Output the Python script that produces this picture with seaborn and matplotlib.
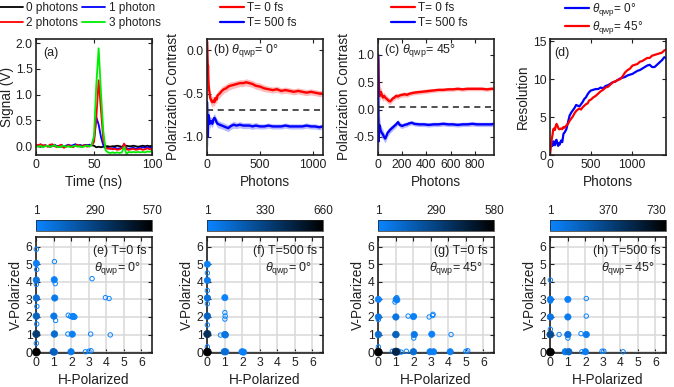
import numpy as np
import pandas as pd
import matplotlib
matplotlib.use("Agg")
import matplotlib.pyplot as plt
import seaborn as sns
from matplotlib.colors import LinearSegmentedColormap, Normalize
from matplotlib.cm import ScalarMappable
from matplotlib.lines import Line2D

# ---------------- data ----------------
# (a) detector signal traces
t_ns = [0, 2, 4, 6, 8, 10, 12, 14, 16, 18, 20, 22, 24, 26, 28, 30, 32, 34, 36, 38, 40,
        42, 44, 46, 48, 50, 52, 54, 56, 58, 60, 62, 64, 66, 68, 70, 72, 74, 76, 78, 80,
        82, 84, 86, 88, 90, 92, 94, 96, 98, 100]
sig_0ph = [0.01, 0.00, -0.01, 0.00, 0.01, 0.00, -0.01, 0.00, 0.01, 0.00, 0.00, -0.01, 0.00, 0.01, 0.00, 0.00, 0.01,
           0.02, 0.01, 0.02, 0.01, 0.02, 0.02, 0.01, 0.02, 0.01, -0.02, -0.01, -0.02, -0.01, 0.00, 0.00, -0.01, 0.00,
           0.00, 0.01, 0.00, -0.01, 0.00, 0.01, 0.00, 0.00, 0.01, 0.00, -0.01, 0.00, 0.01, 0.00, 0.01, 0.00, 0.01]
sig_1ph = [0.02, 0.01, 0.03, 0.01, 0.02, 0.00, 0.02, 0.01, 0.03, 0.00, 0.01, 0.02, 0.00, 0.01, 0.03, 0.01, 0.02,
           0.04, 0.01, 0.02, 0.00, 0.02, 0.01, 0.03, 0.02, 0.12, 0.56, 0.42, 0.18, 0.02, -0.04, -0.03, -0.05, -0.04,
           -0.03, -0.05, -0.04, -0.03, 0.04, -0.04, -0.05, -0.04, -0.03, -0.05, -0.03, -0.04, -0.02, -0.03, -0.02,
           -0.03, -0.02]
sig_2ph = [0.03, 0.02, 0.04, 0.01, 0.02, -0.01, 0.03, 0.04, 0.00, -0.02, 0.01, 0.03, -0.03, -0.01, 0.02, 0.00,
           -0.02, 0.01, 0.03, -0.01, 0.00, 0.02, -0.01, 0.01, 0.02, 0.08, 0.55, 1.28, 0.70, 0.12, -0.03, -0.05,
           -0.04, -0.06, -0.05, -0.07, -0.06, -0.04, 0.05, -0.06, -0.07, -0.06, -0.05, -0.07, -0.06, -0.05, -0.07,
           -0.06, -0.04, -0.06, -0.05]
sig_3ph = [0.00, -0.01, 0.01, -0.02, 0.00, 0.01, -0.01, 0.00, 0.02, -0.01, -0.02, 0.00, 0.01, -0.01, 0.00, -0.02,
           0.00, 0.01, -0.01, 0.00, -0.02, 0.00, 0.01, -0.01, 0.03, 0.20, 1.20, 1.90, 1.05, 0.30, -0.08, -0.12,
           -0.13, -0.12, -0.13, -0.12, -0.13, -0.12, -0.01, -0.15, -0.11, -0.12, -0.11, -0.12, -0.11, -0.12, -0.11,
           -0.12, -0.10, -0.11, -0.09]
trace_labels = ["0 photons", "1 photon", "2 photons", "3 photons"]

# (b) polarization contrast, theta_qwp = 0
b_photons = [1, 3, 5, 8, 10, 12, 15, 20, 25, 30, 40, 50, 60, 70, 80, 90, 100, 120, 140, 160, 180, 200, 220, 250,
             280, 310, 340, 370, 400, 430, 460, 500, 540, 580, 620, 660, 700, 740, 780, 820, 860, 900, 940, 980,
             1020, 1060, 1090]
b_red = [0.10, 0.05, -0.10, -0.20, -0.18, -0.30, -0.40, -0.46, -0.50, -0.55, -0.58, -0.60, -0.58, -0.60, -0.55,
         -0.57, -0.52, -0.50, -0.47, -0.45, -0.44, -0.42, -0.41, -0.40, -0.39, -0.38, -0.38, -0.37, -0.38, -0.39,
         -0.41, -0.42, -0.44, -0.45, -0.46, -0.45, -0.47, -0.46, -0.47, -0.48, -0.47, -0.48, -0.49, -0.48, -0.49,
         -0.50, -0.50]
b_red_err = [0.25, 0.20, 0.15, 0.12, 0.10, 0.09, 0.08, 0.07, 0.07, 0.06, 0.06, 0.06, 0.05, 0.05, 0.05, 0.05, 0.05,
             0.05, 0.05, 0.045, 0.045, 0.045, 0.045, 0.04, 0.04, 0.04, 0.04, 0.04, 0.04, 0.04, 0.04, 0.04, 0.04,
             0.035, 0.035, 0.035, 0.035, 0.035, 0.035, 0.035, 0.035, 0.035, 0.035, 0.035, 0.035, 0.035, 0.035]
b_blue = [-0.60, -0.70, -0.95, -1.00, -0.90, -0.80, -0.75, -0.78, -0.85, -0.83, -0.82, -0.85, -0.80, -0.78, -0.80,
          -0.83, -0.85, -0.86, -0.87, -0.88, -0.89, -0.90, -0.88, -0.86, -0.87, -0.86, -0.87, -0.87, -0.87, -0.88,
          -0.87, -0.88, -0.88, -0.87, -0.88, -0.88, -0.88, -0.87, -0.88, -0.88, -0.88, -0.88, -0.87, -0.88, -0.88,
          -0.89, -0.88]
b_blue_err = [0.30, 0.25, 0.15, 0.12, 0.10, 0.09, 0.08, 0.07, 0.06, 0.06, 0.05, 0.05, 0.05, 0.05, 0.045, 0.045,
              0.045, 0.04, 0.04, 0.04, 0.04, 0.04, 0.04, 0.04, 0.035, 0.035, 0.035, 0.035, 0.035, 0.035, 0.035,
              0.03, 0.03, 0.03, 0.03, 0.03, 0.03, 0.03, 0.03, 0.03, 0.03, 0.03, 0.03, 0.03, 0.03, 0.03, 0.03]
b_reference = -0.69

# (c) polarization contrast, theta_qwp = 45
c_photons = [1, 3, 5, 8, 10, 15, 20, 25, 30, 40, 50, 60, 70, 80, 90, 100, 110, 120, 135, 150, 165, 180, 200, 220,
             240, 260, 280, 300, 340, 380, 420, 460, 500, 540, 580, 620, 660, 700, 740, 780, 820, 860, 900, 940, 960]
c_red = [1.00, 0.90, 0.60, 0.45, 0.35, 0.25, 0.30, 0.32, 0.28, 0.22, 0.25, 0.22, 0.20, 0.18, 0.16, 0.15, 0.17, 0.20,
         0.22, 0.25, 0.24, 0.26, 0.27, 0.28, 0.27, 0.29, 0.30, 0.31, 0.32, 0.33, 0.34, 0.35, 0.36, 0.36, 0.37, 0.37,
         0.38, 0.37, 0.38, 0.38, 0.38, 0.38, 0.37, 0.38, 0.38]
c_red_err = [0.30, 0.25, 0.20, 0.15, 0.12, 0.10, 0.09, 0.08, 0.08, 0.07, 0.07, 0.065, 0.06, 0.06, 0.06, 0.055,
             0.055, 0.05, 0.05, 0.05, 0.05, 0.045, 0.045, 0.045, 0.045, 0.04, 0.04, 0.04, 0.04, 0.04, 0.04, 0.035,
             0.035, 0.035, 0.035, 0.035, 0.035, 0.035, 0.035, 0.035, 0.035, 0.035, 0.035, 0.035, 0.035]
c_blue = [1.00, 0.20, -0.58, -0.40, -0.28, -0.30, -0.37, -0.40, -0.42, -0.45, -0.50, -0.53, -0.48, -0.42, -0.40,
          -0.37, -0.35, -0.33, -0.30, -0.27, -0.23, -0.28, -0.30, -0.28, -0.27, -0.25, -0.24, -0.26, -0.27, -0.27,
          -0.28, -0.27, -0.27, -0.26, -0.27, -0.27, -0.28, -0.27, -0.27, -0.26, -0.27, -0.27, -0.27, -0.27, -0.26]
c_blue_err = [0.40, 0.35, 0.30, 0.25, 0.20, 0.15, 0.12, 0.10, 0.10, 0.09, 0.08, 0.08, 0.07, 0.07, 0.065, 0.06,
              0.06, 0.055, 0.055, 0.05, 0.05, 0.05, 0.045, 0.045, 0.045, 0.04, 0.04, 0.04, 0.04, 0.04, 0.04, 0.04,
              0.04, 0.04, 0.04, 0.04, 0.04, 0.04, 0.04, 0.04, 0.04, 0.04, 0.04, 0.04, 0.04]
c_reference = 0.04

# (d) resolution
d_photons = [0, 10, 20, 30, 40, 50, 60, 70, 80, 90, 100, 110, 120, 135, 150, 165, 180, 200, 220, 240, 260, 280,
             300, 320, 340, 360, 380, 400, 420, 440, 460, 480, 500, 530, 560, 590, 620, 650, 680, 710, 740, 770,
             800, 830, 860, 890, 920, 950, 980, 1010, 1040, 1070, 1100, 1130, 1160, 1190, 1220, 1250, 1280, 1310,
             1340, 1370, 1400, 1420]
d_qwp0 = [1.3, 1.6, 1.5, 1.2, 1.8, 1.4, 1.3, 1.9, 2.0, 1.5, 1.2, 1.6, 1.4, 1.9, 1.7, 2.8, 3.0, 3.4, 4.3, 5.2, 5.6,
          5.9, 6.2, 6.6, 6.5, 6.4, 6.7, 7.0, 7.4, 7.6, 8.0, 8.3, 8.5, 8.6, 8.7, 8.7, 8.9, 8.8, 9.1, 9.2, 9.4, 9.6,
          9.7, 9.9, 10.1, 10.2, 10.3, 10.5, 10.6, 10.7, 10.9, 11.1, 11.2, 11.4, 11.6, 11.8, 11.9, 11.6, 11.6, 11.9,
          12.2, 12.5, 12.9, 12.8]
d_qwp45 = [0.0, 1.0, 2.0, 2.6, 3.4, 3.5, 3.3, 3.8, 4.1, 3.9, 3.6, 3.4, 3.4, 3.5, 3.4, 3.7, 3.6, 3.9, 4.1, 4.5, 4.8,
           5.1, 5.5, 5.8, 6.0, 6.1, 6.0, 6.3, 6.5, 6.7, 6.8, 7.2, 7.3, 7.6, 7.8, 8.1, 8.4, 8.6, 8.9, 9.0, 9.3, 9.6,
           9.7, 9.9, 10.0, 10.4, 10.9, 11.2, 11.4, 11.8, 11.9, 12.0, 12.3, 12.4, 12.6, 12.8, 12.8, 13.1, 13.2, 13.3,
           13.4, 13.5, 13.8, 13.9]

# (e)-(h) photon-number histograms: H, V and occurrence count
e_h = [0.00, 0.00, 0.00, 0.00, 0.00, 0.00, 0.00, 0.02, 0.00, 0.03, 0.02, 0.00, 0.97, 1.03, 1.00, 1.05, 1.02, 1.03,
       1.10, 1.08, 1.03, 1.98, 2.05, 2.12, 1.80, 2.08, 1.82, 1.95, 2.05, 2.20, 2.80, 3.00, 3.12, 3.10, 3.18, 3.94,
       4.15, 4.22]
e_v = [0.00, 1.03, 2.05, 3.08, 4.10, 5.05, 5.85, 4.70, 3.85, 2.60, 1.60, 0.50, 0.02, 1.03, 2.05, 3.08, 4.12, 5.15,
       1.80, 3.90, 0.00, 0.02, 1.02, 2.02, 1.03, 2.08, 2.10, 2.03, 2.00, 2.00, 0.02, 0.05, 0.08, 1.03, 4.18, 3.10,
       3.05, 0.98]
e_n = [570, 320, 140, 90, 70, 25, 1, 2, 3, 2, 4, 5, 160, 110, 60, 45, 20, 2, 3, 2, 40, 45, 25, 10, 3, 4, 3, 3, 2, 2,
       3, 2, 3, 6, 2, 2, 2, 2]

f_h = [0.00, 0.00, 0.00, 0.00, 0.00, 0.00, 0.00, 0.00, 0.00, 0.00, 0.00, 0.97, 1.05, 1.00, 1.03, 0.75, 1.00, 1.02,
       1.00, 1.00, 1.98, 2.07]
f_v = [0.00, 1.03, 2.05, 3.08, 4.08, 5.00, 2.75, 3.50, 4.50, 0.30, 1.55, 0.02, 0.02, 1.00, 0.98, 0.97, 1.88, 2.05,
       2.25, 3.10, 0.02, 0.00]
f_n = [660, 420, 160, 90, 45, 12, 2, 2, 2, 3, 3, 110, 40, 80, 30, 2, 3, 2, 2, 9, 20, 10]

g_h = [0.00, 0.00, 0.00, 0.00, 0.00, 0.00, 1.00, 1.10, 1.00, 1.00, 1.02, 1.05, 0.95, 1.10, 0.80, 1.30, 2.00, 2.05,
       2.02, 2.00, 2.05, 1.70, 1.60, 2.95, 3.15, 3.05, 2.90, 3.10, 3.12, 4.10, 4.15, 5.00, 5.10]
g_v = [0.00, 1.00, 2.00, 3.00, 0.30, 1.85, 0.02, 0.02, 1.00, 2.00, 3.00, 3.10, 2.85, 2.95, 0.05, 0.00, 0.02, 1.00,
       0.80, 2.02, 2.05, 2.05, 0.05, 0.02, 0.02, 1.02, 2.00, 2.08, 2.15, 0.02, 1.00, 0.05, 0.08]
g_n = [580, 110, 60, 10, 3, 2, 420, 60, 160, 70, 30, 3, 2, 2, 3, 2, 100, 55, 2, 20, 5, 2, 2, 30, 15, 15, 3, 3, 2,
       12, 2, 2, 3]

h_h = [0.00, 0.00, 0.00, 0.00, 0.00, 0.00, 0.00, 0.50, 0.85, 1.05, 1.00, 1.00, 1.00, 1.00, 1.75, 2.00, 1.80, 2.05,
       2.05, 2.05, 2.95, 3.05, 4.15]
h_v = [0.00, 1.00, 2.00, 3.00, 4.10, 1.30, 2.90, 1.00, 0.02, 0.02, 1.00, 0.80, 2.00, 3.00, 1.05, 0.02, 0.02, 1.00,
       2.05, 3.05, 0.05, 0.05, 0.02]
h_n = [730, 320, 80, 50, 2, 2, 2, 2, 60, 150, 110, 2, 50, 20, 3, 40, 2, 55, 3, 3, 3, 3, 2]

hist_titles = ["(e) T=0 fs", "(f) T=500 fs", "(g) T=0 fs", "(h) T=500 fs"]
hist_angles = ["0°", "0°", "45°", "45°"]
cbar_ticks = [[1, 290, 570], [1, 330, 660], [1, 290, 580], [1, 370, 730]]

# ---------------- style ----------------
sns.set_style("ticks")
plt.rcParams.update({
    "font.family": ["Liberation Sans", "DejaVu Sans"],
    "mathtext.fontset": "custom",
    "mathtext.rm": "Liberation Sans",
    "mathtext.it": "Liberation Sans:italic",
    "axes.unicode_minus": False,
    "xtick.direction": "in",
    "ytick.direction": "in",
    "xtick.top": True,
    "ytick.right": True,
    "xtick.major.size": 3,
    "ytick.major.size": 3,
    "xtick.major.width": 0.8,
    "ytick.major.width": 0.8,
    "xtick.major.pad": 3,
    "ytick.major.pad": 2.5,
    "xtick.labelsize": 8.8,
    "ytick.labelsize": 8.8,
    "axes.labelsize": 9.8,
    "axes.edgecolor": "#202020",
    "axes.linewidth": 1.2,
    "xtick.color": "#202020",
    "ytick.color": "#202020",
    "text.color": "#202020",
    "axes.labelcolor": "#202020",
})

W, H = 674, 387
fig = plt.figure(figsize=(W / 100, H / 100), dpi=100)


def px_axes(left, top, right, bottom):
    return fig.add_axes([left / W, 1 - bottom / H, (right - left) / W, (bottom - top) / H])


lefts = [36, 207, 378, 550]
axw = 116

RED, BLUE, GREEN, BLACK = "#ff0000", "#0000ff", "#00ee00", "#000000"

# ---- (a)
ax = px_axes(lefts[0], 39, lefts[0] + axw, 155)
df_a = pd.DataFrame({"t": t_ns * 4,
                     "sig": sig_0ph + sig_1ph + sig_2ph + sig_3ph,
                     "trace": sum([[lab] * len(t_ns) for lab in trace_labels], [])})
sns.lineplot(data=df_a, x="t", y="sig", hue="trace", hue_order=trace_labels,
             palette=[BLACK, BLUE, RED, GREEN], lw=1.3, ax=ax, legend=False, estimator=None)
ax.set_xlim(0, 100)
ax.set_ylim(-0.17, 2.08)
ax.set_xticks([0, 50, 100])
ax.set_yticks([0, 0.5, 1.0, 1.5, 2.0])
ax.set_yticklabels(["0.0", "0.5", "1.0", "1.5", "2.0"])
ax.set_xlabel("Time (ns)", labelpad=3)
ax.set_ylabel("Signal (V)", labelpad=1)
ax.text(0.06, 0.88, "(a)", transform=ax.transAxes, fontsize=9, va="center")
handles = [Line2D([], [], color=c, lw=1.3) for c in [BLACK, RED, BLUE, GREEN]]
labels = ["0 photons", "2 photons", "1 photon", "3 photons"]
fig.legend(handles, labels, ncol=2, loc="upper left", bbox_to_anchor=(-0.003, 0.997),
           frameon=False, fontsize=8.5, handlelength=2.0, handletextpad=0.3,
           columnspacing=0.3, labelspacing=0.2, borderpad=0.1, borderaxespad=0)


def contrast_panel(left, xs, red, red_err, blue, blue_err, ref, xlim, ylim, xticks, yticks, yticklabels, tag):
    ax = px_axes(left, 39, left + axw, 155)
    xs = np.array(xs, float)
    for m, e, c, band in [(red, red_err, RED, "#ff8c8c"), (blue, blue_err, BLUE, "#8c8cff")]:
        m = np.array(m)
        e = np.array(e)
        ax.fill_between(xs, m - e, m + e, color=band, alpha=0.6, lw=0)
        sns.lineplot(x=xs, y=m, color=c, lw=1.7, ax=ax, estimator=None)
    ax.axhline(ref, color="#202020", ls=(0, (4, 3)), lw=1.1)
    ax.set_xlim(*xlim)
    ax.set_ylim(*ylim)
    ax.set_xticks(xticks)
    ax.set_yticks(yticks)
    ax.set_yticklabels(yticklabels)
    ax.set_xlabel("Photons", labelpad=3)
    ax.set_ylabel("Polarization Contrast", labelpad=2)
    ax.text(0.05, 0.9, tag, transform=ax.transAxes, fontsize=9, va="center")
    h = [Line2D([], [], color=RED, lw=1.6), Line2D([], [], color=BLUE, lw=1.6)]
    fig.legend(h, ["T= 0 fs", "T= 500 fs"], loc="upper left",
               bbox_to_anchor=((left + 12) / W, 0.997), frameon=False, fontsize=8.5,
               handlelength=2.0, handletextpad=0.3, labelspacing=0.2, borderpad=0.1, borderaxespad=0)
    return ax


contrast_panel(lefts[1], b_photons, b_red, b_red_err, b_blue, b_blue_err, b_reference,
               (0, 1095), (-1.21, 0.13), [0, 500, 1000], [-1.0, -0.5, 0.0], ["-1.0", "-0.5", "0.0"],
               r"(b) $\theta_{\mathrm{qwp}}$= 0°")
contrast_panel(lefts[2], c_photons, c_red, c_red_err, c_blue, c_blue_err, c_reference,
               (0, 960), (-0.83, 1.29), [0, 200, 400, 600, 800], [-0.5, 0.0, 0.5, 1.0],
               ["-0.5", "0.0", "0.5", "1.0"], r"(c) $\theta_{\mathrm{qwp}}$= 45°")

# ---- (d)
ax = px_axes(lefts[3], 39, lefts[3] + axw, 155)
sns.lineplot(x=d_photons, y=d_qwp0, color=BLUE, lw=1.6, ax=ax, estimator=None)
sns.lineplot(x=d_photons, y=d_qwp45, color=RED, lw=1.6, ax=ax, estimator=None)
ax.set_xlim(0, 1420)
ax.set_ylim(0, 15.3)
ax.set_xticks([0, 500, 1000])
ax.set_yticks([0, 5, 10, 15])
ax.set_xlabel("Photons", labelpad=3)
ax.set_ylabel("Resolution", labelpad=2)
ax.text(0.04, 0.88, "(d)", transform=ax.transAxes, fontsize=9, va="center")
h = [Line2D([], [], color=BLUE, lw=1.6), Line2D([], [], color=RED, lw=1.6)]
fig.legend(h, [r"$\theta_{\mathrm{qwp}}$= 0°", r"$\theta_{\mathrm{qwp}}$= 45°"], loc="upper left",
           bbox_to_anchor=((lefts[3] + 14) / W, 1.0), frameon=False, fontsize=8.5,
           handlelength=2.0, handletextpad=0.3, labelspacing=0.05, borderpad=0.1, borderaxespad=0)

# ---- (e)-(h)
cmap = LinearSegmentedColormap.from_list("bk", ["#0a84ff", "#000000"])
for i, (hh, vv, nn) in enumerate([(e_h, e_v, e_n), (f_h, f_v, f_n), (g_h, g_v, g_n), (h_h, h_v, h_n)]):
    left = lefts[i]
    ax = px_axes(left, 237, left + axw, 353)
    ticks = cbar_ticks[i]
    norm = Normalize(vmin=ticks[0], vmax=ticks[-1])
    df = pd.DataFrame({"H": hh, "V": vv, "n": nn}).sort_values("n")
    ax.set_axisbelow(True)
    ax.grid(True, color="#d8d8d8", lw=1.1)
    weak = df[df["n"] < 8]
    strong = df[df["n"] >= 8]
    sns.scatterplot(data=weak, x="H", y="V", hue="n", palette=cmap, hue_norm=norm, s=10,
                    legend=False, ax=ax, zorder=3, clip_on=False)
    coll = ax.collections[-1]
    coll.set_edgecolors(coll.get_facecolors())
    coll.set_facecolors("none")
    coll.set_linewidths(0.7)
    sizes = [20 + 12 * (n / ticks[-1]) for n in strong["n"]]
    sns.scatterplot(data=strong, x="H", y="V", hue="n", palette=cmap, hue_norm=norm, s=sizes,
                    linewidth=0.5, legend=False, ax=ax, zorder=4, clip_on=False)
    coll = ax.collections[-1]
    coll.set_edgecolors(coll.get_facecolors())
    coll.set_sizes(sizes)
    ax.set_xlim(-0.02, 6.6)
    ax.set_ylim(-0.05, 6.55)
    ax.set_xticks(range(7))
    ax.set_yticks(range(7))
    ax.set_xlabel("H-Polarized", labelpad=3)
    ax.set_ylabel("V-Polarized", labelpad=2)
    ax.text(0.95, 0.88, hist_titles[i], transform=ax.transAxes, fontsize=9, ha="right", va="center")
    ax.text(0.91, 0.73, r"$\theta_{\mathrm{qwp}}$" + "= " + hist_angles[i], transform=ax.transAxes,
            fontsize=9, ha="right", va="center")
    cax = px_axes(left, 220, left + axw, 231)
    cb = fig.colorbar(ScalarMappable(norm=norm, cmap=cmap), cax=cax, orientation="horizontal")
    cb.set_ticks(ticks)
    cb.ax.xaxis.set_ticks_position("top")
    cb.ax.tick_params(labelsize=8.5, length=0, pad=2)
    cb.outline.set_linewidth(0.5)
    labs = cb.ax.get_xticklabels()
    labs[-1].set_horizontalalignment("right" if i == 3 else "center")
    if i == 3:
        labs[-1].set_x(ticks[-1])
        cb.ax.get_xticklabels()[-1].set_horizontalalignment("right")

fig.savefig("out.png", dpi=100)
